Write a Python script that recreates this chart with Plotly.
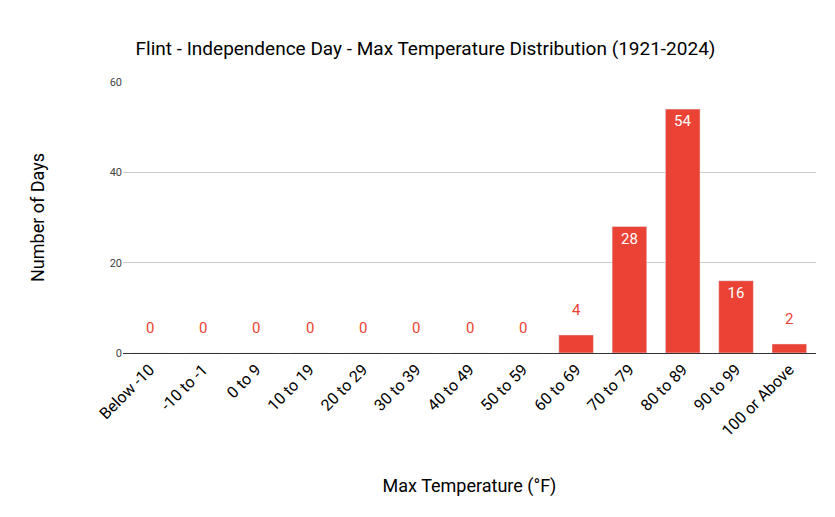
import plotly.graph_objects as go

categories = ["Below -10", "-10 to -1", "0 to 9", "10 to 19", "20 to 29", "30 to 39",
              "40 to 49", "50 to 59", "60 to 69", "70 to 79", "80 to 89", "90 to 99",
              "100 or Above"]
days = [0, 0, 0, 0, 0, 0, 0, 0, 4, 28, 54, 16, 2]

red = "#ea4335"
inside_text = [str(v) if v >= 10 else "" for v in days]

fig = go.Figure()
fig.add_trace(go.Bar(
    x=categories, y=days, marker_color=red, width=0.65,
    text=inside_text, textposition="inside", insidetextanchor="end",
    textfont=dict(color="white", size=15, family="Roboto"),
    cliponaxis=False,
))

# small values get a red label above the bar
for c, v in zip(categories, days):
    if v < 10:
        fig.add_annotation(x=c, y=v, text=str(v), showarrow=False, yanchor="bottom",
                           yshift=14, font=dict(color=red, size=15, family="Roboto"))

fig.update_layout(
    width=835, height=517,
    paper_bgcolor="white", plot_bgcolor="white",
    margin=dict(l=115, r=27, t=74, b=172),
    title=dict(text="Flint - Independence Day - Max Temperature Distribution (1921-2024)",
               x=0.5, xanchor="center", y=0.922, yanchor="middle",
               font=dict(family="Roboto", size=19, color="black")),
    showlegend=False,
    font=dict(family="Roboto"),
)
fig.update_xaxes(
    automargin=False,
    tickangle=-45, tickfont=dict(size=16, color="black"),
    title=dict(text="Max Temperature (°F)", font=dict(size=18, color="black"), standoff=40),
    showline=True, linecolor="#333333", linewidth=1,
)
fig.update_yaxes(
    automargin=False,
    range=[0, 60], tickvals=[0, 20, 40, 60],
    tickfont=dict(size=11, color="#444444"),
    gridcolor="#cccccc", zeroline=False,
    title=dict(text="Number of Days", font=dict(size=18, color="black"), standoff=60),
)

fig.write_html("out.html")
